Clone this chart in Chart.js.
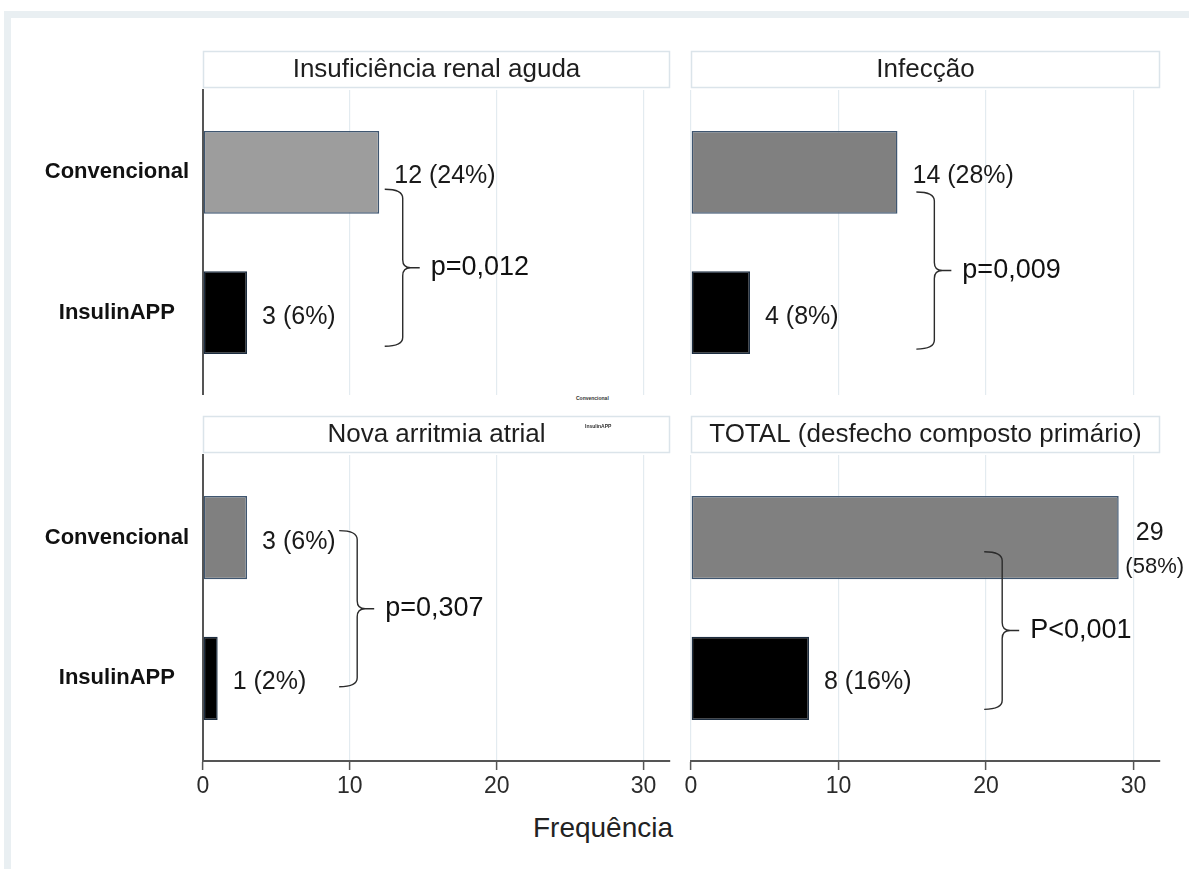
<!DOCTYPE html>
<html lang="pt">
<head>
<meta charset="UTF-8">
<title>Desfechos - Convencional vs InsulinAPP</title>
<script src="https://cdn.jsdelivr.net/npm/chart.js"></script>
<style>
  body { margin: 0; background: #fff; font-family: "Liberation Sans", Arial, sans-serif; }
  .frame { position: absolute; left: 4px; top: 11px; width: 1185px; height: 858px; box-sizing: border-box;
           border-top: 7px solid #e9eff2; border-left: 7px solid #e9eff2; }
  canvas { position: absolute; }
  #xTitle { position: absolute; left: 453px; top: 812px; width: 300px; text-align: center; font-size: 28px; color: #222; }
  .tiny { position: absolute; font-size: 5px; font-weight: bold; color: #333; }
</style>
</head>
<body>
<div class="frame"></div>
<canvas id="p1" width="680" height="345" style="left:0px;top:50px"></canvas>
<canvas id="p2" width="517" height="345" style="left:672px;top:50px"></canvas>
<canvas id="p3" width="680" height="390" style="left:0px;top:415px"></canvas>
<canvas id="p4" width="517" height="390" style="left:672px;top:415px"></canvas>
<div id="xTitle">Frequência</div>
<div class="tiny" style="left:576px;top:395px">Convencional</div>
<div class="tiny" style="left:585px;top:423px">InsulinAPP</div>

<script>
// data
const groups = ['Convencional', 'InsulinAPP'];
const panelTitles = ['Insuficiência renal aguda', 'Infecção', 'Nova arritmia atrial', 'TOTAL (desfecho composto primário)'];
const convencional = [12, 14, 3, 29];
const insulinApp = [3, 4, 1, 8];
const convPct = [24, 28, 6, 58];
const insulinPct = [6, 8, 2, 16];
const pValues = ['p=0,012', 'p=0,009', 'p=0,307', 'P<0,001'];
const xTicks = [0, 10, 20, 30];

// look
const FONT = '"Liberation Sans", Arial, Helvetica, sans-serif';
const convColors = ['#9d9d9d', '#808080', '#808080', '#808080'];
// brace spine position (x units) and vertical span (in category steps from Convencional)
const braces = [
  { x: 13.6, from: 0.12, to: 1.24 },
  { x: 16.5, from: 0.14, to: 1.26 },
  { x: 10.5, from: -0.05, to: 1.06 },
  { x: 21.1, from: 0.10, to: 1.22 }
];
const splitLabel = [false, false, false, true];

const panelDecor = {
  id: 'panelDecor',
  afterDraw(chart, args, opts) {
    const i = opts.index;
    const { ctx, chartArea: a, scales: { x, y } } = chart;
    ctx.save();

    // header strip
    ctx.strokeStyle = '#dbe4ea';
    ctx.lineWidth = 1.5;
    ctx.strokeRect(a.left + 0.5, 1.5, a.right - a.left - 1, 36);
    ctx.fillStyle = '#1e1e1e';
    ctx.font = '26px ' + FONT;
    ctx.textAlign = 'center';
    ctx.textBaseline = 'middle';
    ctx.fillText(panelTitles[i], (a.left + a.right) / 2, 20);

    // value labels
    const y0 = y.getPixelForValue(0), y1 = y.getPixelForValue(1), gap = y1 - y0;
    const vals = [convencional[i], insulinApp[i]];
    const pcts = [convPct[i], insulinPct[i]];
    ctx.fillStyle = '#1a1a1a';
    vals.forEach((v, k) => {
      const px = x.getPixelForValue(v), py = y.getPixelForValue(k);
      if (k === 0 && splitLabel[i]) {
        ctx.textAlign = 'center';
        ctx.font = '25px ' + FONT;
        ctx.fillText(String(v), px + 31, py - 5);
        ctx.font = '22px ' + FONT;
        ctx.fillText('(' + pcts[k] + '%)', px + 36, py + 29);
      } else {
        ctx.textAlign = 'left';
        ctx.font = '25px ' + FONT;
        ctx.fillText(v + ' (' + pcts[k] + '%)', px + 15, py + 4);
      }
    });

    // brace + p value
    const b = braces[i];
    const S = x.getPixelForValue(b.x);
    const yT = y0 + b.from * gap, yB = y0 + b.to * gap, yM = (yT + yB) / 2;
    const L = S - 18, T = S + 17;
    ctx.strokeStyle = '#2b2b2b';
    ctx.lineWidth = 1.4;
    ctx.beginPath();
    ctx.moveTo(L, yT);
    ctx.quadraticCurveTo(S, yT, S, yT + 9);
    ctx.lineTo(S, yM - 8);
    ctx.quadraticCurveTo(S, yM, S + 8, yM);
    ctx.lineTo(T, yM);
    ctx.moveTo(S + 8, yM);
    ctx.quadraticCurveTo(S, yM, S, yM + 8);
    ctx.lineTo(S, yB - 9);
    ctx.quadraticCurveTo(S, yB, L, yB);
    ctx.stroke();

    ctx.textAlign = 'left';
    ctx.font = '27px ' + FONT;
    ctx.fillStyle = '#111';
    ctx.fillText(pValues[i], T + 11, yM);
    ctx.restore();
  }
};

function makePanel(i, id, isLeft, isBottom) {
  return new Chart(document.getElementById(id), {
    type: 'bar',
    data: {
      labels: groups,
      datasets: [{
        data: [convencional[i], insulinApp[i]],
        backgroundColor: [convColors[i], '#000000'],
        borderColor: ['#3f5670', '#1c2d40'],
        borderWidth: 1.5,
        borderSkipped: false,
        barPercentage: 1,
        categoryPercentage: 0.59
      }]
    },
    options: {
      indexAxis: 'y',
      responsive: false,
      animation: false,
      layout: { padding: { top: 40, left: isLeft ? 0 : 19, right: isLeft ? 10 : 29, bottom: 0 } },
      plugins: {
        legend: { display: false },
        tooltip: { enabled: false },
        panelDecor: { index: i }
      },
      scales: {
        x: {
          min: 0,
          max: 31.8,
          afterBuildTicks: s => { s.ticks = xTicks.map(v => ({ value: v })); },
          afterFit: s => { s.height = isBottom ? 44 : 0; s.paddingLeft = 0; s.paddingRight = 0; },
          grid: { color: '#e3ebf0', lineWidth: 1.2, drawTicks: isBottom, tickLength: 9, tickColor: '#555', tickWidth: 1.5 },
          border: { display: isBottom, color: '#555', width: 2 },
          ticks: { display: isBottom, color: '#2b2b2b', padding: 3, maxRotation: 0, font: { size: 23, family: FONT } }
        },
        y: {
          // spread the two bars like the original (not quite centred in each half)
          afterBuildTicks: s => { s._startValue = -0.587; s._valueRange = 2.174; },
          afterFit: s => { s.width = isLeft ? 203 : 0; s.paddingTop = 0; s.paddingBottom = 0; },
          grid: { display: false, drawTicks: false },
          border: { display: isLeft, color: '#555', width: 2 },
          ticks: { display: isLeft, crossAlign: 'center', padding: 14, color: '#111', font: { size: 22, weight: 'bold', family: FONT } }
        }
      }
    },
    plugins: [panelDecor]
  });
}

makePanel(0, 'p1', true, false);
makePanel(1, 'p2', false, false);
makePanel(2, 'p3', true, true);
makePanel(3, 'p4', false, true);
</script>
</body>
</html>
